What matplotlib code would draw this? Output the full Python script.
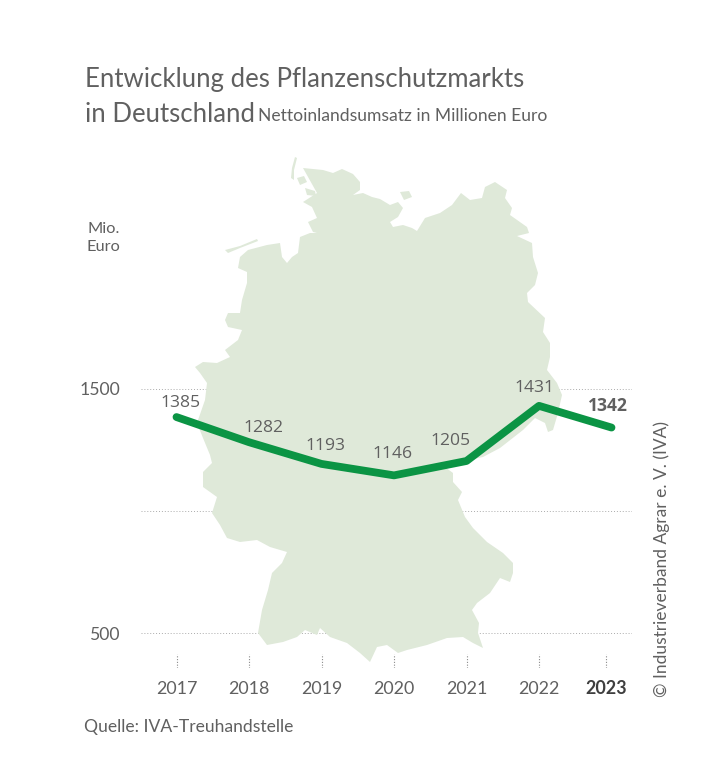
"""Entwicklung des Pflanzenschutzmarkts in Deutschland (Linie vor Deutschlandkarte)."""

import matplotlib

matplotlib.use("Agg")
import matplotlib.pyplot as plt
from matplotlib.patches import Polygon

years = [2017, 2018, 2019, 2020, 2021, 2022, 2023]
umsatz = [1385, 1282, 1193, 1146, 1205, 1431, 1342]
y_ticks = [500, 1000, 1500]
y_tick_labels = ["500", "", "1500"]

W, H = 710, 767
GREEN = "#0b9444"
MAP_COLOR = "#dfe9d9"
TEXT = "#606060"
GRID = "#ababab"

# Umriss der Karte in Bildpixeln (nur Hintergrund, keine Daten)
germany = [
    (303, 168), (323, 170), (333, 173), (342, 169), (353, 174), (360, 182), (360, 190),
    (353, 195), (363, 193), (372, 197), (380, 199), (390, 205), (398, 202), (403, 208),
    (398, 217), (390, 222), (393, 227), (403, 225), (412, 228), (417, 231), (425, 218),
    (440, 213), (452, 205), (461, 193), (470, 200), (482, 198), (485, 187), (495, 182),
    (507, 190), (505, 198), (512, 208), (510, 215), (527, 227), (529, 233), (517, 236),
    (532, 243), (533, 257), (538, 273), (535, 285), (527, 293), (528, 302), (545, 318),
    (543, 332), (550, 343), (550, 357), (547, 370), (557, 383), (562, 395), (558, 413),
    (553, 430), (548, 432), (545, 423), (535, 418), (523, 430), (500, 448), (483, 457),
    (460, 462), (445, 467), (453, 473), (453, 482), (462, 492), (458, 500), (465, 517),
    (473, 528), (487, 542), (503, 553), (513, 563), (513, 573), (510, 582), (500, 578),
    (490, 593), (477, 603), (472, 610), (479, 623), (478, 633), (483, 648), (473, 643),
    (463, 637), (447, 638), (427, 645), (407, 650), (398, 653), (387, 645), (377, 647),
    (370, 662), (360, 653), (347, 643), (330, 637), (320, 628), (317, 635), (305, 630),
    (297, 637), (283, 642), (267, 645), (258, 633), (262, 610), (268, 590), (272, 573),
    (282, 563), (287, 552), (270, 547), (257, 540), (240, 542), (227, 538), (220, 525),
    (212, 513), (217, 497), (203, 487), (203, 472), (212, 463), (210, 455), (203, 438),
    (197, 423), (205, 400), (207, 383), (200, 373), (195, 367), (203, 362), (217, 363),
    (230, 357), (225, 350), (238, 340), (242, 330), (228, 327), (225, 320), (228, 313),
    (240, 313), (242, 300), (247, 283), (247, 272), (238, 268), (240, 257), (248, 250),
    (267, 245), (280, 243), (282, 257), (287, 263), (292, 257), (298, 253), (300, 237),
    (310, 233), (323, 233), (332, 237), (338, 245), (329, 236), (313, 232), (308, 222),
    (317, 218), (312, 207), (303, 202), (317, 193),
]
islands = [
    [(295, 157), (292, 168), (291, 178), (294, 180), (294, 170), (297, 158)],
    [(297, 178), (304, 176), (307, 182), (300, 185)],
    [(305, 188), (315, 191), (316, 196), (307, 195)],
    [(400, 192), (409, 191), (412, 197), (404, 200)],
    [(225, 250), (240, 246), (257, 239), (258, 241), (240, 248), (228, 253)],
]

fig = plt.figure(figsize=(W / 100, H / 100), dpi=100, facecolor="white")
plt.rcParams["font.family"] = ["Lato", "DejaVu Sans"]

# Hintergrund-Achse in Pixeln: freie Texte und Bezug fuer die Karte
bg = fig.add_axes([0, 0, 1, 1])
bg.set_xlim(0, W)
bg.set_ylim(H, 0)
bg.axis("off")

bg.text(85, 79, "Entwicklung des Pflanzenschutzmarkts", fontsize=18.5, color=TEXT, va="center")
bg.text(85, 114, "in Deutschland", fontsize=18.5, color=TEXT, va="center")
bg.text(258, 116, "Nettoinlandsumsatz in Millionen Euro", fontsize=12.6, color=TEXT, va="center")
bg.text(120, 238, "Mio.\nEuro", fontsize=11.8, color=TEXT, ha="right", va="center",
        linespacing=1.35)
bg.text(84, 727, "Quelle: IVA-Treuhandstelle", fontsize=12.6, color=TEXT, va="center")
bg.text(662, 559, "© Industrieverband Agrar e. V. (IVA)", fontsize=12.5, color=TEXT,
        rotation=90, ha="center", va="center")

# Daten-Achse: 72.5 px je Jahr, 244 px je 1000 Mio. Euro
left, right, top, bottom = 141, 632, 140, 668
ax = fig.add_axes([left / W, 1 - bottom / H, (right - left) / W, (bottom - top) / H])
ax.patch.set_alpha(0)
ax.set_xlim(2017 - 35.5 / 72.5, 2023 + 20.5 / 72.5)
y_bottom = 500 - (bottom - 633) / 0.244
ax.set_ylim(y_bottom, 1500 + (389 - top) / 0.244)
for s in ax.spines.values():
    s.set_visible(False)

ax.set_yticks(y_ticks)
ax.set_yticklabels(y_tick_labels, fontsize=12.7, color=TEXT, va="center_baseline")
ax.grid(True, axis="y", color=GRID, linestyle=(0, (1, 2)), linewidth=0.7)
ax.set_axisbelow(True)

# Karte liegt ueber dem Raster, aber unter der Linie
for shape in [germany] + islands:
    ax.add_patch(Polygon(shape, closed=True, facecolor=MAP_COLOR, edgecolor="none",
                         transform=bg.transData, clip_on=False, zorder=1))

tick_pos = [y + (-0.076 if y == 2023 else 0) for y in years]
ax.set_xticks(tick_pos)
ax.set_xticklabels(years, fontsize=12.9, color=TEXT)
ax.get_xticklabels()[-1].set_fontweight("bold")
ax.get_xticklabels()[-1].set_color("#3f3f3f")
ax.tick_params(axis="both", length=0)
ax.tick_params(axis="x", pad=9)
ax.tick_params(axis="y", pad=15)
ax.vlines(tick_pos, y_bottom, y_bottom + 14 / 0.244, color="#8a8a8a",
          linestyle=(0, (1, 1.5)), linewidth=0.8, zorder=2)

ax.plot(years, umsatz, color=GREEN, linewidth=5.6, solid_capstyle="round",
        solid_joinstyle="round", zorder=3)

label_offsets = [(4, 14), (14, 14), (4, 18), (-1, 21), (-16, 20), (-5, 18), (-4, 22)]
for i, (year, val) in enumerate(zip(years, umsatz)):
    last = i == len(years) - 1
    ax.annotate(str(val), (year, val), xytext=label_offsets[i], textcoords="offset pixels",
                ha="center", va="center", fontsize=12.6, color=TEXT, zorder=4,
                family=["Open Sans", "DejaVu Sans"], weight="bold" if last else "normal")

fig.savefig("out.png", dpi=100, facecolor="white")
